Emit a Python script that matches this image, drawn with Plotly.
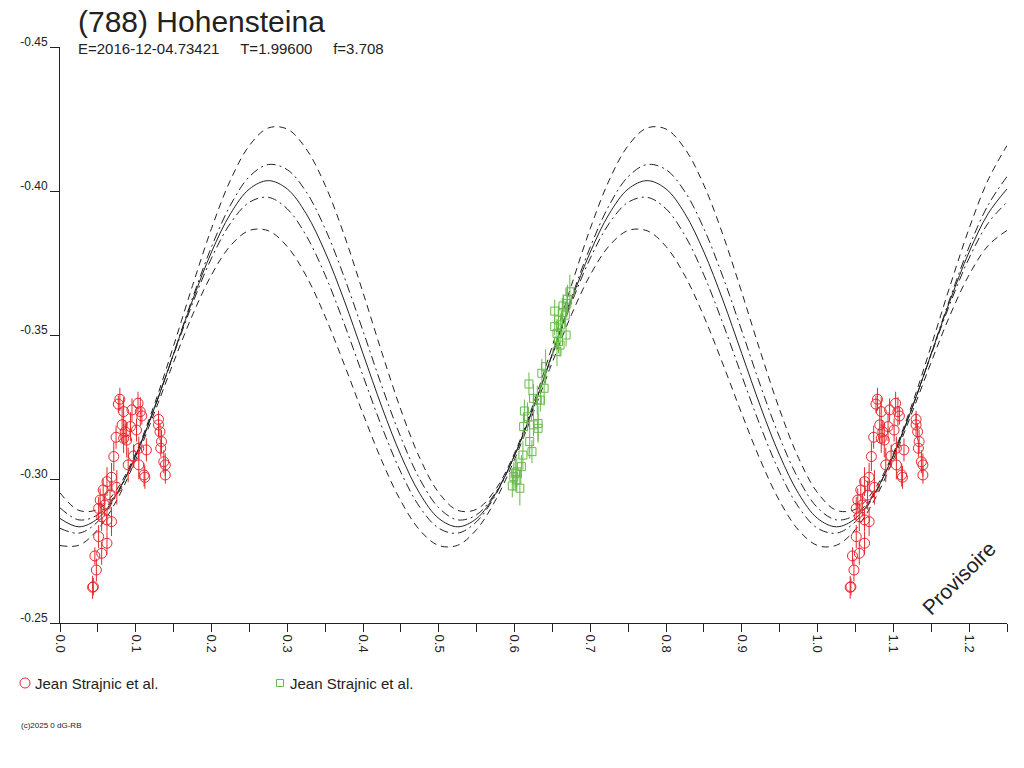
import plotly.graph_objects as go

# Lightcurve of (788) Hohensteina, folded on the period, phase 0 .. 1.25

curve_step = 0.025
fit_mid = [-0.2863, -0.2834, -0.2863, -0.2949, -0.3082, -0.3249, -0.3435, -0.3621, -0.3788, -0.3921,
           -0.4007, -0.4036, -0.4007, -0.3921, -0.3788, -0.3621, -0.3435, -0.3249, -0.3082, -0.2949]
fit_dd_hi = [-0.2900, -0.2858, -0.2876, -0.2953, -0.3081, -0.3248, -0.3436, -0.3629, -0.3806, -0.3951,
             -0.4050, -0.4092, -0.4074, -0.3997, -0.3869, -0.3702, -0.3514, -0.3321, -0.3144, -0.2999]
fit_dd_lo = [-0.2829, -0.2812, -0.2852, -0.2945, -0.3082, -0.3250, -0.3432, -0.3610, -0.3767, -0.3888,
             -0.3961, -0.3978, -0.3938, -0.3845, -0.3708, -0.3540, -0.3358, -0.3180, -0.3023, -0.2902]
fit_dash_hi = [-0.2952, -0.2891, -0.2895, -0.2964, -0.3090, -0.3262, -0.3463, -0.3672, -0.3870, -0.4038,
               -0.4158, -0.4219, -0.4215, -0.4146, -0.4020, -0.3848, -0.3647, -0.3438, -0.3240, -0.3072]
fit_dash_lo = [-0.2769, -0.2770, -0.2825, -0.2927, -0.3068, -0.3233, -0.3406, -0.3570, -0.3709, -0.3810,
               -0.3863, -0.3862, -0.3807, -0.3705, -0.3564, -0.3399, -0.3226, -0.3062, -0.2923, -0.2822]

# observations, Jean Strajnic et al. (two sessions)
red_phase = [0.079, 0.077, 0.084, 0.103, 0.106, 0.095, 0.108, 0.082, 0.093, 0.101,
             0.086, 0.084, 0.074, 0.088, 0.104, 0.114, 0.071, 0.090, 0.097, 0.104,
             0.111, 0.112, 0.130, 0.130, 0.132, 0.134, 0.133, 0.137, 0.139, 0.139,
             0.068, 0.062, 0.057, 0.075, 0.053, 0.066, 0.051, 0.059, 0.055, 0.062,
             0.068, 0.051, 0.062, 0.055, 0.046, 0.048, 0.044, 0.043]
red_mag = [-0.3277, -0.3260, -0.3234, -0.3263, -0.3234, -0.3240, -0.3219, -0.3188, -0.3182, -0.3170,
           -0.3164, -0.3141, -0.3145, -0.3135, -0.3107, -0.3101, -0.3078, -0.3049, -0.3080, -0.3049,
           -0.3014, -0.3006, -0.3207, -0.3188, -0.3164, -0.3130, -0.3107, -0.3060, -0.3049, -0.3014,
           -0.3006, -0.2991, -0.2962, -0.2971, -0.2927, -0.2944, -0.2898, -0.2910, -0.2869, -0.2858,
           -0.2852, -0.2800, -0.2777, -0.2742, -0.2733, -0.2684, -0.2626, -0.2624]
red_err = [0.004, 0.003, 0.005, 0.004, 0.005, 0.004, 0.003, 0.006, 0.005, 0.004,
           0.004, 0.005, 0.004, 0.006, 0.004, 0.004, 0.005, 0.006, 0.004, 0.005,
           0.004, 0.004, 0.003, 0.004, 0.003, 0.004, 0.003, 0.004, 0.004, 0.003,
           0.005, 0.005, 0.004, 0.006, 0.004, 0.005, 0.004, 0.004, 0.005, 0.004,
           0.005, 0.004, 0.004, 0.004, 0.003, 0.004, 0.003, 0.004]

green_phase = [0.673, 0.670, 0.664, 0.669, 0.653, 0.663, 0.667, 0.658, 0.661, 0.653,
               0.668, 0.656, 0.658, 0.660, 0.656, 0.641, 0.636, 0.619, 0.639, 0.625,
               0.634, 0.630, 0.613, 0.617, 0.631, 0.625, 0.612, 0.631, 0.620, 0.623,
               0.611, 0.603, 0.609, 0.599, 0.603, 0.597, 0.607, 0.601]
green_mag = [-0.3650, -0.3624, -0.3601, -0.3610, -0.3583, -0.3578, -0.3569, -0.3552, -0.3535, -0.3529,
             -0.3500, -0.3506, -0.3477, -0.3465, -0.3442, -0.3390, -0.3367, -0.3330, -0.3315, -0.3280,
             -0.3274, -0.3274, -0.3236, -0.3216, -0.3193, -0.3188, -0.3182, -0.3176, -0.3130, -0.3095,
             -0.3083, -0.3025, -0.3043, -0.3008, -0.2997, -0.2976, -0.2968, -0.3020]
green_err = [0.006, 0.005, 0.004, 0.005, 0.004, 0.005, 0.004, 0.005, 0.004, 0.003,
             0.004, 0.005, 0.004, 0.004, 0.005, 0.006, 0.005, 0.004, 0.006, 0.005,
             0.004, 0.005, 0.004, 0.005, 0.006, 0.004, 0.004, 0.005, 0.006, 0.004,
             0.005, 0.005, 0.004, 0.005, 0.004, 0.004, 0.006, 0.005]

x_ticks = [0.0, 0.1, 0.2, 0.3, 0.4, 0.5, 0.6, 0.7, 0.8, 0.9, 1.0, 1.1, 1.2]
y_ticks = [-0.45, -0.40, -0.35, -0.30, -0.25]
legend_labels = ["Jean Strajnic et al.", "Jean Strajnic et al."]

FONT = "Liberation Sans, Arial, sans-serif"
INK = "#222222"
RED = "#e8262b"
GREEN = "#66bb47"

W, H = 1024, 768
M_L, M_R, M_T, M_B = 60, 17, 47, 145
plot_w = W - M_L - M_R
plot_h = H - M_T - M_B


def px_x(x):
    # page pixel -> paper x
    return (x - M_L) / plot_w


def px_y(y):
    # page pixel -> paper y
    return (H - M_B - y) / plot_h


# curves repeat every half phase
n_pts = 51
curve_x = [round(i * curve_step, 3) for i in range(n_pts)]


def unfold(period_vals):
    return [period_vals[i % len(period_vals)] for i in range(n_pts)]


fig = go.Figure()

curve_styles = [
    (fit_dash_hi, "7px,5px"),
    (fit_dd_hi, "9px,4px,2px,4px"),
    (fit_mid, "solid"),
    (fit_dd_lo, "9px,4px,2px,4px"),
    (fit_dash_lo, "7px,5px"),
]
for vals, dash in curve_styles:
    fig.add_trace(go.Scatter(
        x=curve_x, y=unfold(vals), mode="lines", showlegend=False,
        line=dict(color=INK, width=1, dash=dash, shape="spline"),
        hoverinfo="skip",
    ))

# phases below 0.25 are shown again one cycle later
red_x = red_phase + [p + 1.0 for p in red_phase]
red_y = red_mag + red_mag
red_e = red_err + red_err

fig.add_trace(go.Scatter(
    x=red_x, y=red_y, mode="markers", name=legend_labels[0], showlegend=False,
    marker=dict(symbol="circle-open", size=10, color=RED, line=dict(width=1, color=RED)),
    error_y=dict(type="data", array=red_e, color=RED, thickness=1, width=0),
))
fig.add_trace(go.Scatter(
    x=green_phase, y=green_mag, mode="markers", name=legend_labels[1], showlegend=False,
    marker=dict(symbol="square-open", size=8, color=GREEN, line=dict(width=1, color=GREEN)),
    error_y=dict(type="data", array=green_err, color=GREEN, thickness=1, width=0),
))

# legend drawn by hand, it sits below the axis like in the original
legend_shapes = [
    dict(type="circle", xref="paper", yref="paper", xsizemode="pixel", ysizemode="pixel",
         xanchor=px_x(25), yanchor=px_y(683), x0=-5, x1=5, y0=-5, y1=5,
         line=dict(color=RED, width=1)),
    dict(type="rect", xref="paper", yref="paper", xsizemode="pixel", ysizemode="pixel",
         xanchor=px_x(280), yanchor=px_y(683), x0=-3.5, x1=3.5, y0=-3.5, y1=3.5,
         line=dict(color=GREEN, width=1)),
]

fig.update_layout(
    width=W, height=H,
    margin=dict(l=M_L, r=M_R, t=M_T, b=M_B, autoexpand=False),
    paper_bgcolor="white", plot_bgcolor="white",
    font=dict(family=FONT, color=INK, size=12),
    showlegend=False,
    shapes=legend_shapes,
    xaxis=dict(
        range=[0, 1.25], showgrid=False, zeroline=False,
        showline=True, linecolor=INK, linewidth=1,
        tickmode="array", tickvals=x_ticks, ticktext=[f"{t:.1f}" for t in x_ticks],
        ticks="outside", ticklen=8, tickcolor=INK, tickangle=90,
        tickfont=dict(size=13, color=INK),
        minor=dict(ticks="outside", dtick=0.05, tick0=0, ticklen=8, tickcolor=INK),
    ),
    yaxis=dict(
        range=[-0.25, -0.45], showgrid=False, zeroline=False,
        showline=True, linecolor=INK, linewidth=1,
        tickmode="array", tickvals=y_ticks, ticktext=[f"{t:.2f}" for t in y_ticks],
        ticks="outside", ticklen=9, tickcolor=INK,
        tickfont=dict(size=12, color=INK), ticklabelshift=5, ticklabelstandoff=0,
    ),
    annotations=[
        dict(text="(788) Hohensteina", xref="paper", yref="paper",
             x=px_x(76), y=px_y(21), xanchor="left", yanchor="middle",
             showarrow=False, font=dict(size=30, color=INK)),
        dict(text="E=2016-12-04.73421\u00a0\u00a0\u00a0\u00a0\u00a0T=1.99600\u00a0\u00a0\u00a0\u00a0\u00a0f=3.708",
             xref="paper", yref="paper",
             x=px_x(76), y=px_y(48), xanchor="left", yanchor="middle",
             showarrow=False, font=dict(size=15, color=INK)),
        dict(text=legend_labels[0], xref="paper", yref="paper",
             x=px_x(33), y=px_y(683), xanchor="left", yanchor="middle",
             showarrow=False, font=dict(size=15, color=INK)),
        dict(text=legend_labels[1], xref="paper", yref="paper",
             x=px_x(288), y=px_y(683), xanchor="left", yanchor="middle",
             showarrow=False, font=dict(size=15, color=INK)),
        dict(text="Provisoire", xref="paper", yref="paper",
             x=px_x(958), y=px_y(578), xanchor="center", yanchor="middle",
             textangle=-45, showarrow=False, font=dict(size=21, color=INK)),
        dict(text="(c)2025 0 dG-RB", xref="paper", yref="paper",
             x=px_x(19), y=px_y(725), xanchor="left", yanchor="middle",
             showarrow=False, font=dict(size=8, color=INK)),
    ],
)

# drop the browser's default 8px body margin so the figure sits at the page corner
fig.write_html(
    "out.html",
    config={"displayModeBar": False},
    post_script="document.body.style.margin = '0';",
)
